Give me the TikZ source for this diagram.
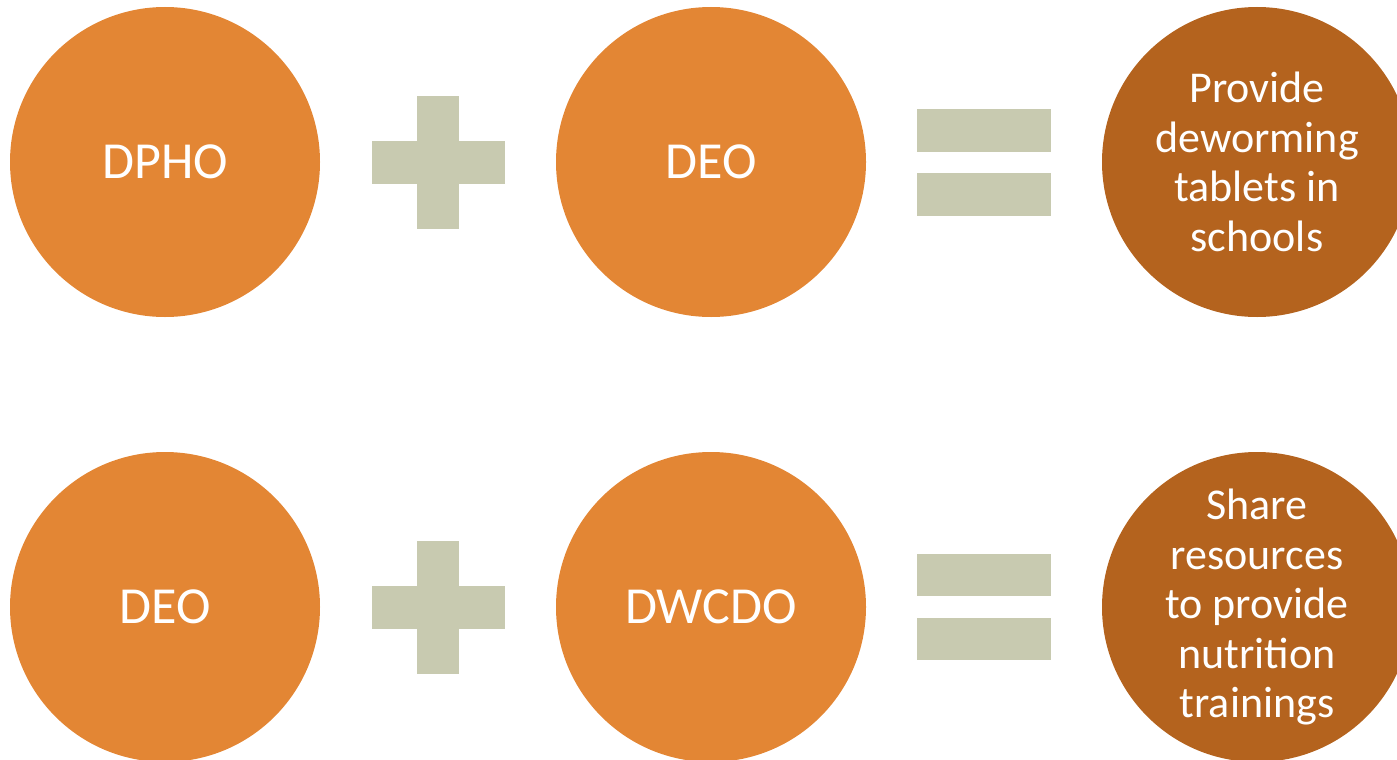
\documentclass[tikz,border=0pt]{standalone}
\usepackage{fontspec}
\setmainfont{Carlito}
\definecolor{orangec}{RGB}{227,134,52}
\definecolor{rustc}{RGB}{180,99,30}
\definecolor{signc}{RGB}{200,202,176}
\tikzset{
  bigcircle/.style={circle, fill=orangec, minimum size=310pt, inner sep=0pt, text=white, font=\fontsize{52}{62}\selectfont},
  resultcircle/.style={circle, fill=rustc, minimum size=310pt, inner sep=0pt, text=white, align=center, font=\fontsize{44}{49.5}\selectfont},
  signbar/.style={fill=signc}
}
\begin{document}
\begin{tikzpicture}[x=1pt,y=-1pt]
\useasboundingbox (0,0) rectangle (1397,760);
\clip (0,0) rectangle (1397,760);
% row 1
\node[bigcircle] (dpho) at (165,162) {DPHO};
\node[bigcircle] (deo1) at (711,162) {DEO};
\node[resultcircle] (res1) at (1257,162) {Provide\\deworming\\tablets in\\schools};
\fill[signbar] (417,96) rectangle (459,229);
\fill[signbar] (372,141) rectangle (505,184);
\fill[signbar] (917,109) rectangle (1051,152);
\fill[signbar] (917,173) rectangle (1051,216);
% row 2
\node[bigcircle] (deo2) at (165,607) {DEO};
\node[bigcircle] (dwcdo) at (711,607) {DWCDO};
\node[resultcircle] (res2) at (1257,607) {Share\\resources\\to provide\\nutrition\\trainings};
\fill[signbar] (417,541) rectangle (459,674);
\fill[signbar] (372,586) rectangle (505,629);
\fill[signbar] (917,554) rectangle (1051,596);
\fill[signbar] (917,618) rectangle (1051,660);
\end{tikzpicture}
\end{document}
